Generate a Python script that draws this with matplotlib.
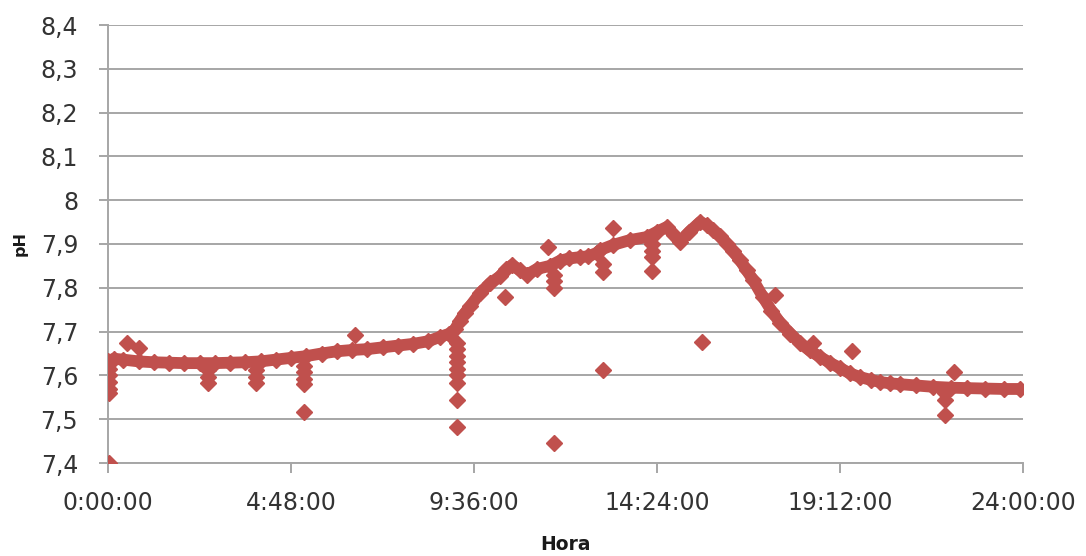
import matplotlib
matplotlib.use("Agg")
import matplotlib.pyplot as plt
import numpy as np

# ---- data (hours of day, pH) ----
main_hours = [0.00, 0.15, 0.40, 0.80, 1.20, 1.60, 2.00, 2.40, 2.80, 3.20, 3.60, 4.00,
              4.40, 4.80, 5.20, 5.60, 6.00, 6.40, 6.80, 7.20, 7.60, 8.00, 8.40, 8.71,
              8.95, 9.10, 9.23, 9.36, 9.50, 9.76, 10.02, 10.28, 10.45, 10.60, 10.80,
              10.99, 11.25, 11.59, 11.86, 12.10, 12.38, 12.60, 12.83, 12.90, 13.25,
              13.69, 14.14, 14.40, 14.66, 14.85, 15.00, 15.25, 15.53, 15.70, 15.87,
              16.05, 16.24, 16.40, 16.58, 16.75, 16.92, 17.18, 17.40, 17.63, 17.90,
              18.15, 18.40, 18.68, 18.95, 19.20, 19.45, 19.73, 20.00, 20.25, 20.50,
              20.77, 21.20, 21.64, 22.10, 22.53, 23.00, 23.50, 23.92]
main_ph = [7.632, 7.638, 7.636, 7.632, 7.630, 7.629, 7.628, 7.628, 7.628, 7.629, 7.630, 7.632,
           7.636, 7.640, 7.644, 7.650, 7.655, 7.658, 7.660, 7.664, 7.668, 7.672, 7.678, 7.688,
           7.695, 7.705, 7.725, 7.742, 7.758, 7.788, 7.810, 7.826, 7.842, 7.852, 7.840,
           7.830, 7.843, 7.850, 7.862, 7.867, 7.870, 7.872, 7.880, 7.886, 7.898,
           7.909, 7.916, 7.928, 7.939, 7.920, 7.905, 7.928, 7.950, 7.944, 7.932,
           7.918, 7.900, 7.883, 7.863, 7.840, 7.818, 7.779, 7.748, 7.720, 7.695,
           7.674, 7.657, 7.642, 7.628, 7.617, 7.605, 7.596, 7.590, 7.585, 7.582,
           7.580, 7.577, 7.574, 7.572, 7.571, 7.570, 7.569, 7.569]

# short downward spikes of readings below the main band
dip_hours = [0.03, 0.03, 0.03, 0.03, 0.03,
             2.62, 2.62, 2.62,
             3.88, 3.88, 3.88,
             5.14, 5.14, 5.14, 5.14,
             9.15, 9.15, 9.15, 9.15, 9.15, 9.15, 9.15, 9.15, 9.15,
             11.70, 11.70, 11.70,
             12.98, 12.98,
             14.27, 14.27, 14.27,
             21.96, 21.96, 21.96]
dip_ph = [7.615, 7.600, 7.585, 7.570, 7.560,
          7.612, 7.597, 7.583,
          7.612, 7.597, 7.583,
          7.622, 7.607, 7.592, 7.580,
          7.675, 7.660, 7.645, 7.630, 7.615, 7.600, 7.583, 7.544, 7.482,
          7.830, 7.815, 7.800,
          7.855, 7.836,
          7.900, 7.885, 7.870,
          7.560, 7.544, 7.510]

# isolated outliers
out_hours = [0.03, 0.50, 0.81, 5.14, 6.48, 10.41, 11.54, 11.70, 12.98, 13.25,
             14.27, 15.58, 17.50, 18.50, 19.52, 22.19]
out_ph = [7.400, 7.674, 7.663, 7.517, 7.692, 7.779, 7.893, 7.446, 7.612, 7.936,
          7.838, 7.676, 7.783, 7.674, 7.656, 7.608]

x_ticks = [0.0, 4.8, 9.6, 14.4, 19.2, 24.0]
x_tick_labels = ["0:00:00", "4:48:00", "9:36:00", "14:24:00", "19:12:00", "24:00:00"]
y_ticks = [7.4, 7.5, 7.6, 7.7, 7.8, 7.9, 8.0, 8.1, 8.2, 8.3, 8.4]
y_tick_labels = ["7,4", "7,5", "7,6", "7,7", "7,8", "7,9", "8", "8,1", "8,2", "8,3", "8,4"]

RED = "#C0504D"
GRID = "#A6A6A6"
TXT = "#333333"

fig = plt.figure(figsize=(10.86, 5.56), dpi=100)
ax = fig.add_axes([108 / 1086, 1 - 463 / 556, 915 / 1086, 438 / 556])

ax.plot(main_hours, main_ph, color=RED, lw=8.5, solid_capstyle="round",
        solid_joinstyle="round", zorder=3)
ax.plot(main_hours, main_ph, linestyle="none", marker="D", ms=8, color=RED, zorder=3)
ax.plot(dip_hours, dip_ph, linestyle="none", marker="D", ms=8, color=RED, zorder=3)
ax.plot(out_hours, out_ph, linestyle="none", marker="D", ms=8, color=RED, zorder=3)

ax.set_xlim(0, 24)
ax.set_ylim(7.4, 8.4)
ax.set_xticks(x_ticks)
ax.set_xticklabels(x_tick_labels)
ax.set_yticks(y_ticks)
ax.set_yticklabels(y_tick_labels)

ax.yaxis.grid(True, color=GRID, lw=1.4)
ax.set_axisbelow(True)
for s in ["top", "right"]:
    ax.spines[s].set_visible(False)
for s in ["left", "bottom"]:
    ax.spines[s].set_color(GRID)
    ax.spines[s].set_linewidth(1.4)

ax.tick_params(axis="x", direction="out", length=7, width=1.4, color=GRID,
               pad=13, labelsize=17, labelcolor=TXT)
ax.tick_params(axis="y", direction="out", length=6.5, width=1.4, color=GRID,
               pad=15, labelsize=17, labelcolor=TXT)

fig.text(20 / 1086, 1 - 244 / 556, "pH", rotation=90, ha="center", va="center",
         fontsize=11.5, fontweight="bold", color="#1a1a1a")
fig.text(566 / 1086, 1 - 545 / 556, "Hora", ha="center", va="center",
         fontsize=13.5, fontweight="bold", color="#1a1a1a")

fig.savefig("out.png", dpi=100)
